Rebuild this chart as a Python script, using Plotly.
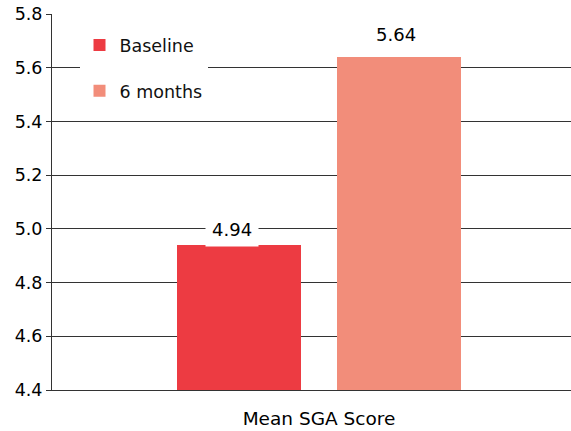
import plotly.graph_objects as go

category = ["Mean SGA Score"]
series_names = ["Baseline", "6 months"]
series_values = [[4.94], [5.64]]
series_colors = ["#ED3B42", "#F28D7A"]
y_ticks = [4.4, 4.6, 4.8, 5.0, 5.2, 5.4, 5.6, 5.8]

FONT = "DejaVu Sans, Liberation Sans, Arial, sans-serif"
bargap = 0.2
bargroupgap = 0.225

fig = go.Figure()
for i, (name, vals, col) in enumerate(zip(series_names, series_values, series_colors)):
    fig.add_trace(go.Bar(
        x=category, y=vals, name=name, marker=dict(color=col, line=dict(width=0)),
        legendgroup=f"g{i}", hoverinfo="skip",
    ))

# value labels with white background
slot = (1 - bargap) / 2
yshifts = [15, 22]
xshifts = [-7, -3]
for i, vals in enumerate(series_values):
    offset = -slot / 2 + i * slot
    fig.add_annotation(
        x=offset, y=vals[0], xref="x", yref="y", text=f"{vals[0]:.2f}",
        showarrow=False, yshift=yshifts[i], xshift=xshifts[i],
        bgcolor="white", borderpad=6,
        font=dict(family=FONT, size=18, color="#000"),
    )

fig.update_layout(
    width=571, height=431,
    margin=dict(l=52, r=0, t=14, b=41),
    paper_bgcolor="white", plot_bgcolor="white",
    barmode="group", bargap=bargap, bargroupgap=bargroupgap,
    font=dict(family=FONT, color="#000"),
    showlegend=True,
    legend=dict(
        x=0.053, y=0.965, xanchor="left", yanchor="top",
        bgcolor="white", borderwidth=0,
        font=dict(family=FONT, size=17.5, color="#111"),
        tracegroupgap=20, traceorder="grouped",
        itemwidth=30,
    ),
)
fig.update_xaxes(
    type="category", range=[-0.6675, 0.63], automargin=False,
    showgrid=False, showline=True, linecolor="#333", linewidth=1,
    ticks="", ticklabelstandoff=12,
    tickfont=dict(family=FONT, size=18.5, color="#000"),
)
fig.update_yaxes(
    range=[4.4, 5.8], tickvals=y_ticks, ticktext=[f"{v:.1f}" for v in y_ticks],
    automargin=False,
    showgrid=True, gridcolor="#333", gridwidth=1,
    showline=True, linecolor="#333", linewidth=1,
    ticks="outside", ticklen=5, tickcolor="#333",
    tickfont=dict(family=FONT, size=17.5, color="#000"),
    zeroline=False,
)

fig.write_html("out.html")
